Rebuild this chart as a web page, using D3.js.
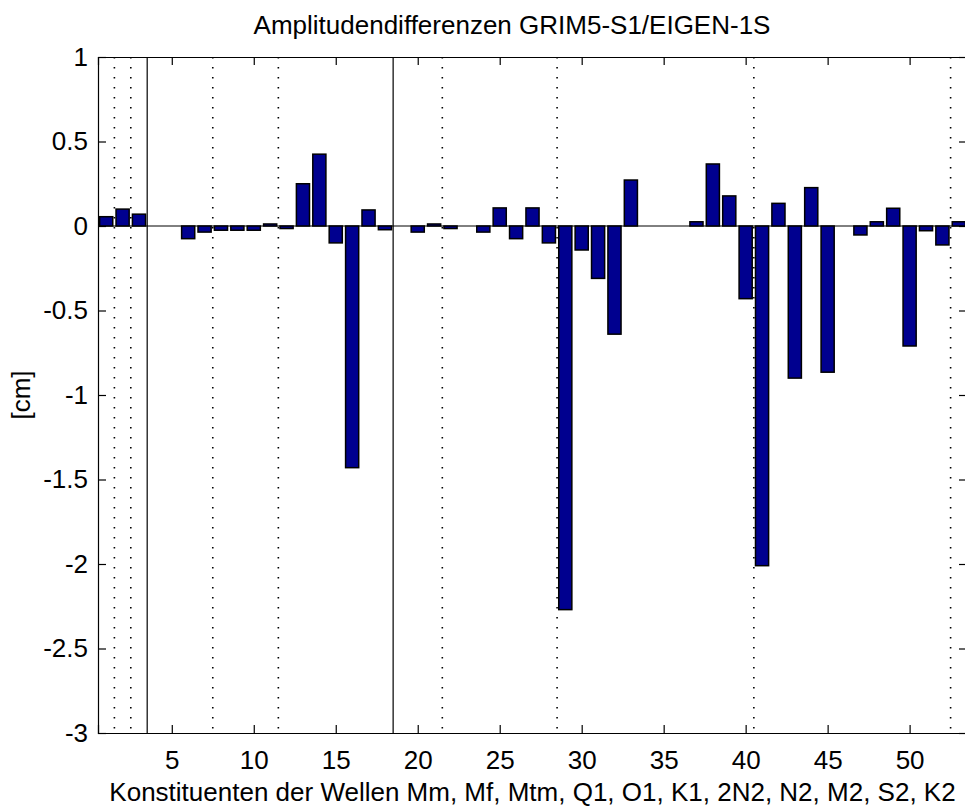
<!DOCTYPE html>
<html>
<head>
<meta charset="utf-8">
<script src="https://cdn.jsdelivr.net/npm/d3@7"></script>
<style>
  body { margin: 0; background: #fff; }
  text { font-family: "Liberation Sans", Arial, sans-serif; fill: #000; }
</style>
</head>
<body>
<div id="chart"></div>
<script>
// amplitude differences per constituent (cm)
const constituents = d3.range(1, 54);
const diffs = [
  0.055, 0.10, 0.07, 0.0, 0.0, -0.075, -0.036, -0.025, -0.025, -0.025,
  0.012, -0.015, 0.25, 0.425, -0.10, -1.43, 0.095, -0.022, 0.0, -0.036,
  0.012, -0.015, 0.0, -0.036, 0.107, -0.075, 0.107, -0.10, -2.27, -0.142,
  -0.31, -0.64, 0.272, 0.0, 0.0, 0.0, 0.025, 0.367, 0.178, -0.43,
  -2.01, 0.134, -0.90, 0.227, -0.865, 0.0, -0.053, 0.025, 0.105, -0.71,
  -0.028, -0.112, 0.025
];
const xTicks = [5, 10, 15, 20, 25, 30, 35, 40, 45, 50];
const yTicks = [1, 0.5, 0, -0.5, -1, -1.5, -2, -2.5, -3];
// group separators
const solidLines = [3.5, 18.5];
const dottedLines = [1.5, 2.5, 7.5, 11.5, 21.5, 28.5, 40.5, 52.5];

const titleText = "Amplitudendifferenzen GRIM5-S1/EIGEN-1S";
const xLabel = "Konstituenten der Wellen Mm, Mf, Mtm, Q1, O1, K1, 2N2, N2, M2, S2, K2";
const yLabel = "[cm]";

const width = 965, height = 807;
const margin = {top: 57, right: -2, bottom: 74, left: 98};

const svg = d3.select("#chart").append("svg")
  .attr("width", width)
  .attr("height", height);

const x = d3.scaleLinear().domain([0.5, 53.5]).range([margin.left, width - margin.right]);
const y = d3.scaleLinear().domain([-3, 1]).range([height - margin.bottom, margin.top]);

const barW = (x(1) - x(0)) * 0.8;
const fs = 26;

// zero baseline
svg.append("line")
  .attr("x1", x(0.5)).attr("x2", x(53.5))
  .attr("y1", y(0)).attr("y2", y(0))
  .attr("stroke", "#000").attr("stroke-width", 1);

// bars
svg.selectAll("rect.bar")
  .data(diffs)
  .join("rect")
  .attr("class", "bar")
  .attr("x", (d, i) => x(constituents[i]) - barW / 2)
  .attr("width", barW)
  .attr("y", d => y(Math.max(0, d)))
  .attr("height", d => Math.abs(y(d) - y(0)))
  .attr("fill", "#00008f")
  .attr("stroke", "#000")
  .attr("stroke-width", 1.5);

// separators
svg.selectAll("line.solid")
  .data(solidLines)
  .join("line")
  .attr("class", "solid")
  .attr("x1", d => x(d)).attr("x2", d => x(d))
  .attr("y1", y(1)).attr("y2", y(-3))
  .attr("stroke", "#000").attr("stroke-width", 1.2);

svg.selectAll("line.dotted")
  .data(dottedLines)
  .join("line")
  .attr("class", "dotted")
  .attr("x1", d => x(d)).attr("x2", d => x(d))
  .attr("y1", y(1)).attr("y2", y(-3))
  .attr("stroke", "#000").attr("stroke-width", 1.6)
  .attr("stroke-dasharray", "1.6,8.4");

// axes (ticks inward, box style)
const tickLen = 8;
const xAxisB = d3.axisBottom(x).tickValues(xTicks).tickSize(-tickLen).tickPadding(18);
const xAxisT = d3.axisTop(x).tickValues(xTicks).tickSize(-tickLen).tickFormat("");
const yAxisL = d3.axisLeft(y).tickValues(yTicks).tickSize(-tickLen).tickPadding(10).tickFormat(d3.format("~g"));
const yAxisR = d3.axisRight(y).tickValues(yTicks).tickSize(-tickLen).tickFormat("");

function styleAxis(g) {
  g.select(".domain").attr("stroke", "#000").attr("stroke-width", 1.2);
  g.selectAll(".tick line").attr("stroke", "#000").attr("stroke-width", 1.2);
  g.selectAll(".tick text").attr("font-size", fs).attr("font-family", "Liberation Sans, Arial, sans-serif");
}

svg.append("g").attr("transform", `translate(0,${y(-3)})`).call(xAxisB).call(styleAxis);
svg.append("g").attr("transform", `translate(0,${y(1)})`).call(xAxisT).call(styleAxis);
svg.append("g").attr("transform", `translate(${x(0.5)},0)`).call(yAxisL).call(styleAxis);
svg.append("g").attr("transform", `translate(${x(53.5)},0)`).call(yAxisR).call(styleAxis);

// the minus sign in MATLAB is a plain hyphen
svg.selectAll(".tick text").text(function() { return this.textContent.replace("\u2212", "-"); });

// title and labels
svg.append("text")
  .attr("x", 512)
  .attr("y", 34)
  .attr("text-anchor", "middle")
  .attr("font-size", fs)
  .text(titleText);

svg.append("text")
  .attr("x", (x(0.5) + x(53.5)) / 2)
  .attr("y", 801)
  .attr("text-anchor", "middle")
  .attr("font-size", fs)
  .text(xLabel);

svg.append("text")
  .attr("transform", `translate(30,${(y(1) + y(-3)) / 2}) rotate(-90)`)
  .attr("text-anchor", "middle")
  .attr("font-size", fs)
  .text(yLabel);
</script>
</body>
</html>
